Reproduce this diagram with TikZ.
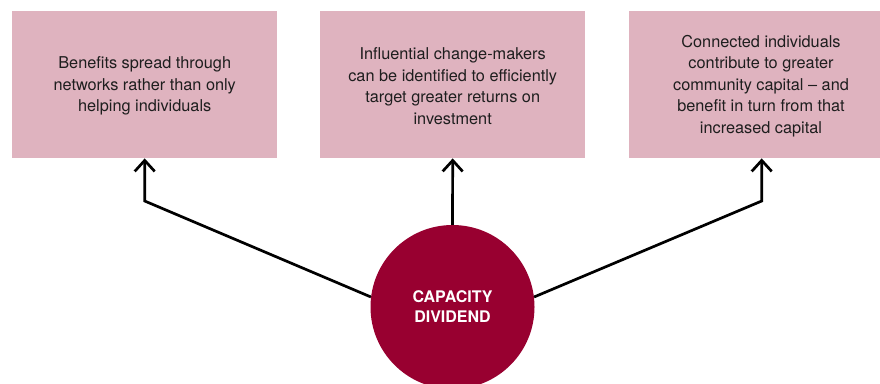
\documentclass[tikz,border=0pt]{standalone}
\usepackage{fontspec}
\setmainfont{TeX Gyre Heros}
\usetikzlibrary{arrows.meta}
\definecolor{boxpink}{RGB}{223,179,191}
\definecolor{dividend}{RGB}{152,0,48}
\definecolor{txt}{RGB}{30,30,30}
\tikzset{
  infobox/.style={fill=boxpink, draw=none, anchor=north west, inner sep=0pt,
    minimum width=265pt, minimum height=147pt},
  boxtext/.style={align=center, text=txt, font=\fontsize{16.3}{21.5}\selectfont},
  link/.style={line width=2.7pt, line join=miter, -{Straight Barb[length=11pt,width=20pt,line width=2.7pt]}},
  hub/.style={circle, fill=dividend, draw=none, minimum size=164pt, inner sep=0pt,
    text=white, align=center, font=\fontsize{16}{20}\selectfont\bfseries}
}
\begin{document}
\begin{tikzpicture}[x=1pt,y=-1pt]
\useasboundingbox (0,0) rectangle (880,383);
\clip (0,0) rectangle (880,383);
\node[infobox] (bl) at (12,11) {};
\node[infobox] (bm) at (320,11) {};
\node[infobox] (br) at (629,11) {};
\node[boxtext] (tl) at (bl.center |- 0,86)
  {Benefits spread through\\networks rather than only\\helping individuals};
\node[boxtext] (tm) at (bm.center |- 0,86)
  {Influential change-makers\\can be identified to efficiently\\target greater returns on\\investment};
\node[boxtext] (tr) at (761,86)
  {Connected individuals\\contribute to greater\\community capital -- and\\benefit in turn from that\\increased capital};
\node[hub] (dv) at (452.5,307) {CAPACITY\\DIVIDEND};
\coordinate (cl) at (bl.south |- 0,201);
\coordinate (cr) at (br.south |- 0,201);
\draw[link] (dv.173) -- (cl) -- (bl.south);
\draw[link] (dv.north) -- (bm.south);
\draw[link] (dv.7) -- (cr) -- (br.south);
\end{tikzpicture}
\end{document}
